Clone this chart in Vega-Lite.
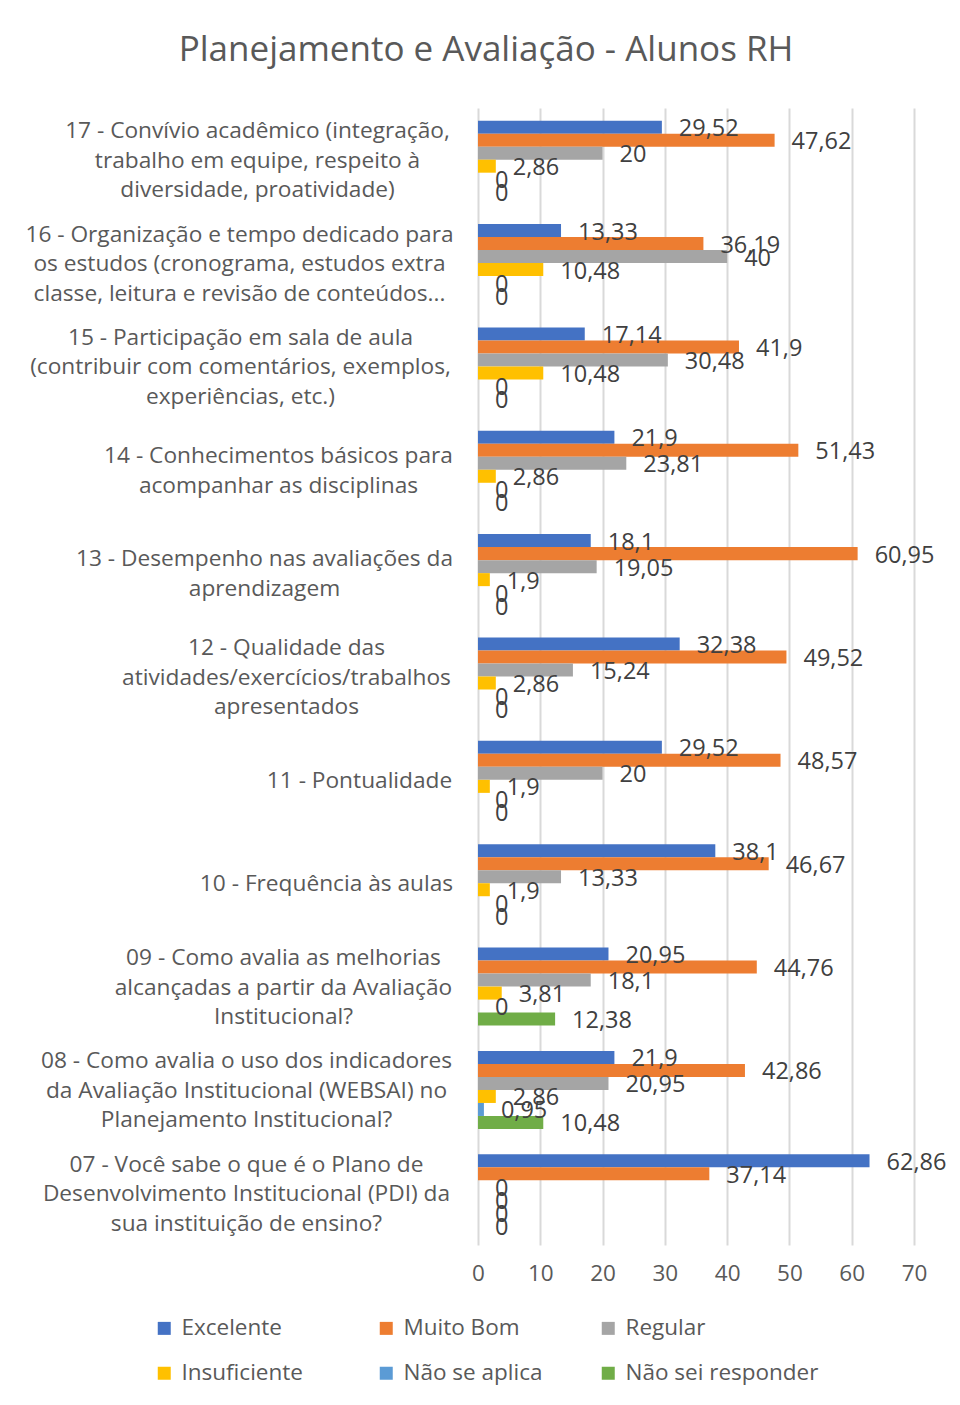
{
  "$schema": "https://vega.github.io/schema/vega-lite/v6.json",
  "width": 436,
  "height": 1137,
  "autosize": {"type": "none"},
  "padding": {"left": 478, "top": 108, "right": 46, "bottom": 160},
  "background": "white",
  "title": {
    "text": "Planejamento e Avaliação - Alunos RH",
    "anchor": "middle",
    "frame": "group",
    "dx": -210,
    "dy": 36,
    "offset": 48,
    "baseline": "alphabetic",
    "font": "Open Sans",
    "fontSize": 35,
    "fontWeight": "normal",
    "color": "#595959"
  },
  "data": {
    "values": [
      {"q": "17 - Convívio acadêmico (integração,|trabalho em equipe, respeito à|diversidade, proatividade)", "s": "Excelente", "v": 29.52},
      {"q": "17 - Convívio acadêmico (integração,|trabalho em equipe, respeito à|diversidade, proatividade)", "s": "Muito Bom", "v": 47.62},
      {"q": "17 - Convívio acadêmico (integração,|trabalho em equipe, respeito à|diversidade, proatividade)", "s": "Regular", "v": 20},
      {"q": "17 - Convívio acadêmico (integração,|trabalho em equipe, respeito à|diversidade, proatividade)", "s": "Insuficiente", "v": 2.86},
      {"q": "17 - Convívio acadêmico (integração,|trabalho em equipe, respeito à|diversidade, proatividade)", "s": "Não se aplica", "v": 0},
      {"q": "17 - Convívio acadêmico (integração,|trabalho em equipe, respeito à|diversidade, proatividade)", "s": "Não sei responder", "v": 0},
      {"q": "16 - Organização e tempo dedicado para|os estudos (cronograma, estudos extra|classe, leitura e revisão de conteúdos...", "s": "Excelente", "v": 13.33},
      {"q": "16 - Organização e tempo dedicado para|os estudos (cronograma, estudos extra|classe, leitura e revisão de conteúdos...", "s": "Muito Bom", "v": 36.19},
      {"q": "16 - Organização e tempo dedicado para|os estudos (cronograma, estudos extra|classe, leitura e revisão de conteúdos...", "s": "Regular", "v": 40},
      {"q": "16 - Organização e tempo dedicado para|os estudos (cronograma, estudos extra|classe, leitura e revisão de conteúdos...", "s": "Insuficiente", "v": 10.48},
      {"q": "16 - Organização e tempo dedicado para|os estudos (cronograma, estudos extra|classe, leitura e revisão de conteúdos...", "s": "Não se aplica", "v": 0},
      {"q": "16 - Organização e tempo dedicado para|os estudos (cronograma, estudos extra|classe, leitura e revisão de conteúdos...", "s": "Não sei responder", "v": 0},
      {"q": "15 - Participação em sala de aula|(contribuir com comentários, exemplos,|experiências, etc.)", "s": "Excelente", "v": 17.14},
      {"q": "15 - Participação em sala de aula|(contribuir com comentários, exemplos,|experiências, etc.)", "s": "Muito Bom", "v": 41.9},
      {"q": "15 - Participação em sala de aula|(contribuir com comentários, exemplos,|experiências, etc.)", "s": "Regular", "v": 30.48},
      {"q": "15 - Participação em sala de aula|(contribuir com comentários, exemplos,|experiências, etc.)", "s": "Insuficiente", "v": 10.48},
      {"q": "15 - Participação em sala de aula|(contribuir com comentários, exemplos,|experiências, etc.)", "s": "Não se aplica", "v": 0},
      {"q": "15 - Participação em sala de aula|(contribuir com comentários, exemplos,|experiências, etc.)", "s": "Não sei responder", "v": 0},
      {"q": "14 - Conhecimentos básicos para|acompanhar as disciplinas", "s": "Excelente", "v": 21.9},
      {"q": "14 - Conhecimentos básicos para|acompanhar as disciplinas", "s": "Muito Bom", "v": 51.43},
      {"q": "14 - Conhecimentos básicos para|acompanhar as disciplinas", "s": "Regular", "v": 23.81},
      {"q": "14 - Conhecimentos básicos para|acompanhar as disciplinas", "s": "Insuficiente", "v": 2.86},
      {"q": "14 - Conhecimentos básicos para|acompanhar as disciplinas", "s": "Não se aplica", "v": 0},
      {"q": "14 - Conhecimentos básicos para|acompanhar as disciplinas", "s": "Não sei responder", "v": 0},
      {"q": "13 - Desempenho nas avaliações da|aprendizagem", "s": "Excelente", "v": 18.1},
      {"q": "13 - Desempenho nas avaliações da|aprendizagem", "s": "Muito Bom", "v": 60.95},
      {"q": "13 - Desempenho nas avaliações da|aprendizagem", "s": "Regular", "v": 19.05},
      {"q": "13 - Desempenho nas avaliações da|aprendizagem", "s": "Insuficiente", "v": 1.9},
      {"q": "13 - Desempenho nas avaliações da|aprendizagem", "s": "Não se aplica", "v": 0},
      {"q": "13 - Desempenho nas avaliações da|aprendizagem", "s": "Não sei responder", "v": 0},
      {"q": "12 - Qualidade das|atividades/exercícios/trabalhos|apresentados", "s": "Excelente", "v": 32.38},
      {"q": "12 - Qualidade das|atividades/exercícios/trabalhos|apresentados", "s": "Muito Bom", "v": 49.52},
      {"q": "12 - Qualidade das|atividades/exercícios/trabalhos|apresentados", "s": "Regular", "v": 15.24},
      {"q": "12 - Qualidade das|atividades/exercícios/trabalhos|apresentados", "s": "Insuficiente", "v": 2.86},
      {"q": "12 - Qualidade das|atividades/exercícios/trabalhos|apresentados", "s": "Não se aplica", "v": 0},
      {"q": "12 - Qualidade das|atividades/exercícios/trabalhos|apresentados", "s": "Não sei responder", "v": 0},
      {"q": "11 - Pontualidade", "s": "Excelente", "v": 29.52},
      {"q": "11 - Pontualidade", "s": "Muito Bom", "v": 48.57},
      {"q": "11 - Pontualidade", "s": "Regular", "v": 20},
      {"q": "11 - Pontualidade", "s": "Insuficiente", "v": 1.9},
      {"q": "11 - Pontualidade", "s": "Não se aplica", "v": 0},
      {"q": "11 - Pontualidade", "s": "Não sei responder", "v": 0},
      {"q": "10 - Frequência às aulas", "s": "Excelente", "v": 38.1},
      {"q": "10 - Frequência às aulas", "s": "Muito Bom", "v": 46.67},
      {"q": "10 - Frequência às aulas", "s": "Regular", "v": 13.33},
      {"q": "10 - Frequência às aulas", "s": "Insuficiente", "v": 1.9},
      {"q": "10 - Frequência às aulas", "s": "Não se aplica", "v": 0},
      {"q": "10 - Frequência às aulas", "s": "Não sei responder", "v": 0},
      {"q": "09 - Como avalia as melhorias|alcançadas a partir da Avaliação|Institucional?", "s": "Excelente", "v": 20.95},
      {"q": "09 - Como avalia as melhorias|alcançadas a partir da Avaliação|Institucional?", "s": "Muito Bom", "v": 44.76},
      {"q": "09 - Como avalia as melhorias|alcançadas a partir da Avaliação|Institucional?", "s": "Regular", "v": 18.1},
      {"q": "09 - Como avalia as melhorias|alcançadas a partir da Avaliação|Institucional?", "s": "Insuficiente", "v": 3.81},
      {"q": "09 - Como avalia as melhorias|alcançadas a partir da Avaliação|Institucional?", "s": "Não se aplica", "v": 0},
      {"q": "09 - Como avalia as melhorias|alcançadas a partir da Avaliação|Institucional?", "s": "Não sei responder", "v": 12.38},
      {"q": "08 - Como avalia o uso dos indicadores|da Avaliação Institucional (WEBSAI) no|Planejamento Institucional?", "s": "Excelente", "v": 21.9},
      {"q": "08 - Como avalia o uso dos indicadores|da Avaliação Institucional (WEBSAI) no|Planejamento Institucional?", "s": "Muito Bom", "v": 42.86},
      {"q": "08 - Como avalia o uso dos indicadores|da Avaliação Institucional (WEBSAI) no|Planejamento Institucional?", "s": "Regular", "v": 20.95},
      {"q": "08 - Como avalia o uso dos indicadores|da Avaliação Institucional (WEBSAI) no|Planejamento Institucional?", "s": "Insuficiente", "v": 2.86},
      {"q": "08 - Como avalia o uso dos indicadores|da Avaliação Institucional (WEBSAI) no|Planejamento Institucional?", "s": "Não se aplica", "v": 0.95},
      {"q": "08 - Como avalia o uso dos indicadores|da Avaliação Institucional (WEBSAI) no|Planejamento Institucional?", "s": "Não sei responder", "v": 10.48},
      {"q": "07 - Você sabe o que é o Plano de|Desenvolvimento Institucional (PDI) da|sua instituição de ensino?", "s": "Excelente", "v": 62.86},
      {"q": "07 - Você sabe o que é o Plano de|Desenvolvimento Institucional (PDI) da|sua instituição de ensino?", "s": "Muito Bom", "v": 37.14},
      {"q": "07 - Você sabe o que é o Plano de|Desenvolvimento Institucional (PDI) da|sua instituição de ensino?", "s": "Regular", "v": 0},
      {"q": "07 - Você sabe o que é o Plano de|Desenvolvimento Institucional (PDI) da|sua instituição de ensino?", "s": "Insuficiente", "v": 0},
      {"q": "07 - Você sabe o que é o Plano de|Desenvolvimento Institucional (PDI) da|sua instituição de ensino?", "s": "Não se aplica", "v": 0},
      {"q": "07 - Você sabe o que é o Plano de|Desenvolvimento Institucional (PDI) da|sua instituição de ensino?", "s": "Não sei responder", "v": 0}
    ]
  },
  "encoding": {
    "y": {
      "field": "q",
      "type": "nominal",
      "sort": null,
      "scale": {"paddingInner": 0.245, "paddingOuter": 0.1225},
      "axis": {
        "title": null,
        "ticks": false,
        "domain": false,
        "grid": false,
        "labelExpr": "split(datum.label, '|')",
        "labelFont": "Open Sans",
        "labelFontSize": 22.7,
        "labelColor": "#595959",
        "labelLineHeight": 29.5,
        "labelLimit": 0,
        "labelAlign": "center",
        "labelPadding": {"expr": "[221, 239, 238, 200, 214, 192, 119, 152, 195, 232, 232][indexof(['17', '16', '15', '14', '13', '12', '11', '10', '09', '08', '07'], substring(datum.value, 0, 2))]"},
        "labelOffset": {"expr": "-(length(split(datum.value, '|')) - 1) * 14.75 + 1"}
      }
    },
    "yOffset": {
      "field": "s",
      "type": "nominal",
      "scale": {"domain": ["Excelente", "Muito Bom", "Regular", "Insuficiente", "Não se aplica", "Não sei responder"], "paddingInner": 0, "paddingOuter": 0}
    },
    "x": {
      "field": "v",
      "type": "quantitative",
      "scale": {"domain": [0, 70], "nice": false},
      "axis": {
        "title": null,
        "values": [0, 10, 20, 30, 40, 50, 60, 70],
        "grid": true,
        "gridColor": "#D9D9D9",
        "gridWidth": 2,
        "domain": false,
        "ticks": false,
        "labelFlush": false,
        "labelFont": "Open Sans",
        "labelFontSize": 22.5,
        "labelColor": "#595959",
        "labelPadding": 17
      }
    }
  },
  "layer": [
    {
      "mark": {"type": "bar", "height": {"band": 1}},
      "encoding": {
        "color": {
          "field": "s",
          "type": "nominal",
          "scale": {
            "domain": ["Excelente", "Muito Bom", "Regular", "Insuficiente", "Não se aplica", "Não sei responder"],
            "range": ["#4472C4", "#ED7D31", "#A5A5A5", "#FFC000", "#5B9BD5", "#70AD47"]
          },
          "legend": {
            "title": null,
            "orient": "none",
            "legendX": -325,
            "legendY": 1209,
            "direction": "horizontal",
            "columns": 3,
            "gridAlign": "all",
            "columnPadding": 0,
            "rowPadding": 22,
            "symbolType": "square",
            "symbolSize": 169,
            "symbolStrokeWidth": 0,
            "labelFont": "Open Sans",
            "labelFontSize": 22.5,
            "labelColor": "#595959",
            "labelOffset": 6,
            "labelLimit": 0
          }
        }
      }
    },
    {
      "mark": {"type": "text", "align": "left", "baseline": "middle", "dx": 17, "dy": 2, "font": "Open Sans", "fontSize": 23.5, "color": "#404040"},
      "encoding": {
        "text": {"field": "v", "type": "quantitative", "format": "~g"}
      }
    }
  ],
  "config": {
    "locale": {"number": {"decimal": ",", "thousands": ".", "grouping": [3], "currency": ["R$", ""]}},
    "view": {"stroke": null}
  }
}
